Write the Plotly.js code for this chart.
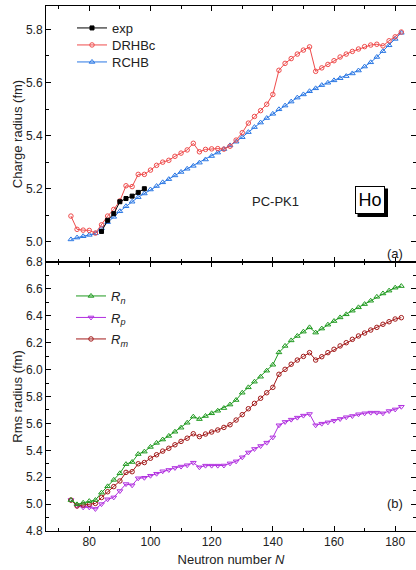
<!DOCTYPE html>
<html>
<head>
<meta charset="utf-8">
<script src="https://cdn.plot.ly/plotly-3.0.1.min.js"></script>
<style>html,body{margin:0;padding:0;background:#fff;}#chart{width:416px;height:570px;}</style>
</head>
<body>
<div id="chart"></div>
<script>
// Neutron numbers (even N)
const N = [74,76,78,80,82,84,86,88,90,92,94,96,98,100,102,104,106,108,110,112,114,116,118,120,122,124,126,128,130,132,134,136,138,140,142,144,146,148,150,152,154,156,158,160,162,164,166,168,170,172,174,176,178,180,182];

// Panel (a): charge radii (fm)
const expN = [84,86,88,90,92,94,96,98];
const expRc = [5.039,5.081,5.106,5.151,5.163,5.172,5.186,5.200];
const drhbcRc = [5.097,5.047,5.044,5.043,5.033,5.064,5.097,5.122,5.154,5.211,5.208,5.254,5.254,5.270,5.288,5.300,5.307,5.322,5.334,5.346,5.371,5.339,5.348,5.350,5.351,5.349,5.360,5.383,5.411,5.447,5.472,5.494,5.518,5.555,5.646,5.672,5.690,5.707,5.722,5.734,5.642,5.655,5.668,5.682,5.696,5.707,5.717,5.726,5.735,5.741,5.744,5.738,5.757,5.772,5.790];
const rchbRc = [5.009,5.016,5.021,5.026,5.032,5.051,5.074,5.094,5.115,5.134,5.151,5.168,5.182,5.197,5.210,5.224,5.236,5.250,5.263,5.275,5.286,5.298,5.310,5.323,5.336,5.349,5.363,5.377,5.394,5.413,5.432,5.449,5.466,5.482,5.499,5.513,5.528,5.543,5.555,5.567,5.578,5.590,5.599,5.608,5.616,5.624,5.634,5.645,5.660,5.676,5.696,5.718,5.740,5.764,5.787];

// Panel (b): rms radii (fm)
const Rn = [5.030,4.998,5.010,5.022,5.030,5.085,5.132,5.180,5.229,5.297,5.313,5.372,5.390,5.425,5.455,5.480,5.507,5.538,5.568,5.605,5.650,5.632,5.655,5.675,5.694,5.714,5.740,5.774,5.828,5.868,5.910,5.947,5.992,6.036,6.128,6.176,6.217,6.250,6.282,6.314,6.275,6.305,6.334,6.361,6.388,6.411,6.438,6.463,6.487,6.512,6.541,6.566,6.587,6.609,6.621];
const Rp = [5.030,4.986,4.976,4.976,4.964,5.000,5.036,5.050,5.097,5.149,5.140,5.192,5.196,5.211,5.226,5.244,5.254,5.269,5.279,5.289,5.308,5.274,5.286,5.286,5.286,5.287,5.303,5.318,5.348,5.384,5.410,5.432,5.457,5.496,5.586,5.611,5.628,5.643,5.658,5.670,5.586,5.598,5.608,5.620,5.633,5.646,5.655,5.668,5.675,5.680,5.680,5.675,5.692,5.704,5.724];
const Rm = [5.030,4.986,4.993,4.998,5.005,5.049,5.092,5.130,5.172,5.236,5.241,5.300,5.309,5.341,5.367,5.394,5.415,5.441,5.466,5.490,5.523,5.502,5.521,5.536,5.551,5.570,5.590,5.625,5.665,5.709,5.749,5.787,5.828,5.868,5.965,6.002,6.040,6.071,6.098,6.126,6.071,6.096,6.126,6.151,6.176,6.200,6.225,6.250,6.272,6.294,6.314,6.337,6.356,6.376,6.386];

const W = 416, H = 570, ML = 46, MR = 0, MT = 6, MB = 39;
const px = v => (v - ML) / (W - ML - MR);
const py = v => (H - MB - v) / (H - MT - MB);
const split = py(262);
const FONT = 'Arial, "Liberation Sans", sans-serif';

function series(x, y, name, color, symbol, size, xa, ya, leg) {
  return {
    x: x, y: y, name: name, type: 'scatter', mode: 'lines+markers',
    xaxis: xa, yaxis: ya, legend: leg,
    line: {color: color, width: 1},
    marker: {symbol: symbol, size: size, color: color, line: {color: color, width: 1}},
    cliponaxis: false
  };
}

const traces = [
  series(N, rchbRc, 'RCHB', '#2b78e4', 'triangle-up-open', 5, 'x2', 'y2', 'legend3'),
  series(N, drhbcRc, 'DRHBc', '#ef4b4b', 'circle-open', 4.5, 'x2', 'y2', 'legend2'),
  series(expN, expRc, 'exp', '#000000', 'square', 4, 'x2', 'y2', 'legend'),
  series(N, Rp, '<i>R</i><sub><i>p</i></sub>', '#b12fe0', 'triangle-down-open', 5, 'x', 'y', 'legend5'),
  series(N, Rm, '<i>R</i><sub><i>m</i></sub>', '#a31a1a', 'circle-open', 4.5, 'x', 'y', 'legend6'),
  series(N, Rn, '<i>R</i><sub><i>n</i></sub>', '#1f9a1f', 'triangle-up-open', 5, 'x', 'y', 'legend4')
];

const axCommon = {
  showline: true, linecolor: '#000', linewidth: 1, mirror: 'ticks',
  ticks: 'inside', ticklen: 5, tickwidth: 1, tickcolor: '#000',
  showgrid: false, zeroline: false,
  tickfont: {family: FONT, size: 12, color: '#222'}
};
const xRange = [65.85, 186.8];

function legendAt(left, top) {
  return {
    x: px(left), y: py(top), xanchor: 'left', yanchor: 'top', bgcolor: 'rgba(0,0,0,0)',
    font: {family: FONT, size: 13, color: '#222'}, borderwidth: 0
  };
}

const layout = {
  width: W, height: H,
  margin: {l: ML, r: MR, t: MT, b: MB, pad: 0},
  paper_bgcolor: '#fff', plot_bgcolor: '#fff',
  font: {family: FONT, size: 12, color: '#222'},
  showlegend: true,
  xaxis: Object.assign({}, axCommon, {
    domain: [0, 1], anchor: 'y', range: xRange, dtick: 20, tick0: 0,
    minor: {dtick: 10, ticks: 'inside', ticklen: 3, tickcolor: '#000'},
    title: {text: 'Neutron number <i>N</i>', font: {family: FONT, size: 13, color: '#222'}, standoff: 6}
  }),
  xaxis2: Object.assign({}, axCommon, {
    domain: [0, 1], anchor: 'y2', range: xRange, dtick: 20, tick0: 0, showticklabels: false,
    minor: {dtick: 10, ticks: 'inside', ticklen: 3, tickcolor: '#000'}
  }),
  yaxis: Object.assign({}, axCommon, {
    domain: [0, split], anchor: 'x', range: [4.8, 6.8], dtick: 0.2, tick0: 0, tickformat: '.1f',
    minor: {dtick: 0.1, ticks: 'inside', ticklen: 3, tickcolor: '#000'},
    title: {text: 'Rms radius (fm)', font: {family: FONT, size: 13, color: '#222'}, standoff: 0}
  }),
  yaxis2: Object.assign({}, axCommon, {
    domain: [split, 1], anchor: 'x2', range: [4.924, 5.888], dtick: 0.2, tick0: 0, tickformat: '.1f',
    minor: {dtick: 0.1, ticks: 'inside', ticklen: 3, tickcolor: '#000'},
    title: {text: 'Charge radius (fm)', font: {family: FONT, size: 13, color: '#222'}, standoff: 0}
  }),
  legend: legendAt(72, 13),
  legend2: legendAt(72, 30),
  legend3: legendAt(72, 47),
  legend4: legendAt(71, 281),
  legend5: legendAt(71, 302.5),
  legend6: legendAt(71, 324),
  shapes: [
    {type: 'rect', xref: 'paper', yref: 'paper', x0: px(357.5), x1: px(388), y0: py(217), y1: py(188.5),
     fillcolor: '#000', line: {width: 0}, layer: 'above'}
  ],
  annotations: [
    {xref: 'paper', yref: 'paper', x: px(275), y: py(201), text: 'PC-PK1', showarrow: false,
     font: {family: FONT, size: 13, color: '#222'}},
    {xref: 'paper', yref: 'paper', x: px(369.5), y: py(199.5), text: 'Ho', showarrow: false,
     font: {family: FONT, size: 18, color: '#000'}, bgcolor: '#fff', bordercolor: '#000', borderwidth: 1,
     borderpad: 0, width: 28, height: 26, xanchor: 'center', yanchor: 'middle'},
    {xref: 'paper', yref: 'paper', x: px(405), y: py(254), text: '(a)', showarrow: false, xanchor: 'right',
     font: {family: FONT, size: 13, color: '#222'}},
    {xref: 'paper', yref: 'paper', x: px(405), y: py(513), text: '(b)', showarrow: false, xanchor: 'right',
     font: {family: FONT, size: 13, color: '#222'}}
  ]
};

Plotly.newPlot('chart', traces, layout, {displayModeBar: false, staticPlot: true});
</script>
</body>
</html>
